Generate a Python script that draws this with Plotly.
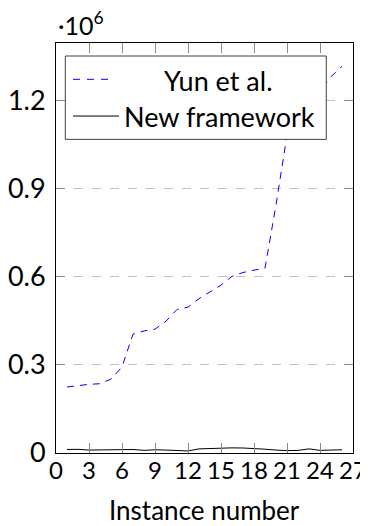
import plotly.graph_objects as go

instances = list(range(1, 27))
yun_et_al = [225000, 230000, 234000, 236000, 252000, 293000, 405000, 416000, 422000, 449000,
             489000, 497000, 526000, 549000, 572000, 602000, 615000, 623000, 630000, 845000,
             1083000, 1135000, 1185000, 1235000, 1282000, 1318000]
new_framework = [12000, 12500, 10000, 11000, 12000, 12500, 12000, 9000, 11000, 10000,
                 8000, 7000, 14000, 16000, 17000, 17500, 17000, 16000, 13000, 10000,
                 8000, 9000, 14000, 9000, 11000, 11000]
x_ticks = [0, 3, 6, 9, 12, 15, 18, 21, 24, 27]
y_ticks = [0, 300000, 600000, 900000, 1200000]
y_tick_labels = ["0", "0.3", "0.6", "0.9", "1.2"]
series_names = ["Yun et al.", "New framework"]

FONT = "Lato"
FS = 27

fig = go.Figure()
fig.add_trace(go.Scatter(x=instances, y=yun_et_al, mode="lines", name=series_names[0],
                         line=dict(color="#0000ff", width=1, dash="7px,6px"), showlegend=False))
fig.add_trace(go.Scatter(x=instances, y=new_framework, mode="lines", name=series_names[1],
                         line=dict(color="#000000", width=1), showlegend=False))

# page has an 8px body margin; target pixel coordinates are given in page space
OFF = 8
W, H = 368 - OFF, 526 - OFF
L, T = 56 - OFF, 43 - OFF
pw = 296.7
ph = 409.7
R = W - L - pw
B = H - T - ph

def px(x):
    return (x - OFF - L) / pw

def py(y):
    return (T + ph - (y - OFF)) / ph

shapes = [
    dict(type="rect", xref="paper", yref="paper", x0=px(65.3), x1=px(326), y0=py(139.3), y1=py(56),
         line=dict(color="#404040", width=1), fillcolor="white", layer="above"),
    dict(type="line", xref="paper", yref="paper", x0=px(73), x1=px(115), y0=py(79.3), y1=py(79.3),
         line=dict(color="#0000ff", width=1, dash="7px,7px"), layer="above"),
    dict(type="line", xref="paper", yref="paper", x0=px(73), x1=px(119), y0=py(116), y1=py(116),
         line=dict(color="#000000", width=1), layer="above"),
]
annotations = [
    dict(text=series_names[0], xref="paper", yref="paper", x=px(218), y=py(80), xanchor="center",
         yanchor="middle", showarrow=False, font=dict(family=FONT, size=FS, color="black")),
    dict(text=series_names[1], xref="paper", yref="paper", x=px(219), y=py(116), xanchor="center",
         yanchor="middle", showarrow=False, font=dict(family=FONT, size=FS, color="black")),
    dict(text="·10<sup>6</sup>", xref="paper", yref="paper", x=px(56), y=py(24), xanchor="left",
         yanchor="middle", showarrow=False, font=dict(family=FONT, size=25, color="black")),
    dict(text="Instance number", xref="paper", yref="paper", x=0.5, y=py(510), xanchor="center",
         yanchor="middle", showarrow=False, font=dict(family=FONT, size=26, color="black")),
]

fig.update_layout(
    width=W, height=H,
    margin=dict(l=L, r=R, t=T, b=B),
    paper_bgcolor="white", plot_bgcolor="white",
    font=dict(family=FONT, size=FS, color="black"),
    shapes=shapes, annotations=annotations,
    xaxis=dict(range=[0, 27], tickvals=x_ticks, ticks="inside", ticklen=10, tickcolor="#888",
               showline=True, linecolor="black", linewidth=1, mirror="ticks", showgrid=False,
               zeroline=False, tickfont=dict(family=FONT, size=24, color="black"),
               ticklabelstandoff=-4, automargin=False, tickangle=0, ticklabeloverflow="allow"),
    yaxis=dict(range=[0, 1397000], tickvals=y_ticks, ticktext=y_tick_labels, ticks="inside",
               ticklen=9, tickcolor="#888", showline=True, linecolor="black", linewidth=1,
               mirror="ticks", showgrid=True, gridcolor="#c0c0c0", griddash="dash", gridwidth=1,
               zeroline=False, tickfont=dict(family=FONT, size=FS, color="black"),
               ticklabelstandoff=4, automargin=False, ticklabeloverflow="allow"),
)

fig.write_html("out.html")
